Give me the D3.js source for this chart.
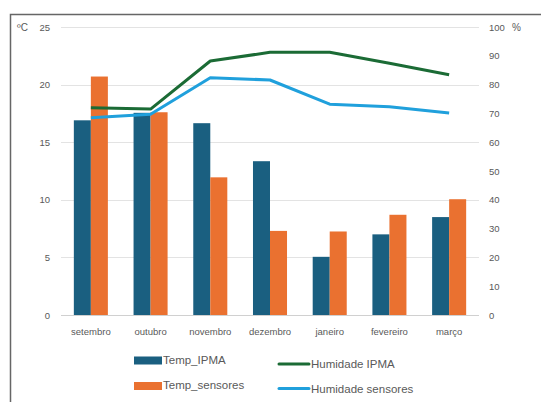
<!DOCTYPE html>
<html><head><meta charset="utf-8">
<script src="https://cdn.jsdelivr.net/npm/d3@7/dist/d3.min.js"></script>
<style>body{margin:0;background:#fff;}svg{display:block;font-family:"Liberation Sans",Arial,sans-serif;}</style>
</head><body>
<svg id="c" width="541" height="402"></svg>
<script>
const categories = ["setembro","outubro","novembro","dezembro","janeiro","fevereiro","março"];
const tempIPMA = [16.9, 17.55, 16.65, 13.35, 5.05, 7.0, 8.5];
const tempSensores = [20.7, 17.6, 11.95, 7.3, 7.25, 8.7, 10.05];
const humIPMA = [72.0, 71.5, 88.2, 91.2, 91.2, 87.4, 83.4];
const humSensores = [68.5, 69.7, 82.4, 81.6, 73.2, 72.3, 70.1];
const leftTicks = [0,5,10,15,20,25];
const rightTicks = [0,10,20,30,40,50,60,70,80,90,100];

const svg = d3.select("#c");
const L = 61, R = 479, T = 27, B = 315;
const x = d3.scaleBand().domain(categories).range([L, R]).paddingInner(0.43).paddingOuter(0.215);
const xc = d => x(d) + x.bandwidth()/2;
const yL = d3.scaleLinear().domain([0,25]).range([B, T]);
const yR = d3.scaleLinear().domain([0,100]).range([B, T]);

// frame
svg.append("path").attr("d", `M10.5,402 L10.5,14.5 L541,14.5`).attr("fill","none").attr("stroke","#666").attr("stroke-width",1.5);

// gridlines
svg.append("g").selectAll("line").data(leftTicks).join("line")
  .attr("x1", L).attr("x2", R).attr("y1", d=>Math.round(yL(d))+0.5).attr("y2", d=>Math.round(yL(d))+0.5)
  .attr("stroke", d=> d===0 ? "#d0d0d0" : "#e3e3e3").attr("stroke-width",1);

// left axis
const gl = svg.append("g").attr("transform", `translate(${L-11},0)`)
  .call(d3.axisLeft(yL).tickValues(leftTicks).tickSize(0).tickPadding(0));
gl.select(".domain").remove();
gl.selectAll("text").attr("fill","#595959").style("font-size","9.5px").style("font-family","'Liberation Sans',Arial,sans-serif");

// right axis
const gr = svg.append("g").attr("transform", `translate(${R+10},0)`)
  .call(d3.axisRight(yR).tickValues(rightTicks).tickSize(0).tickPadding(0));
gr.select(".domain").remove();
gr.selectAll("text").attr("fill","#595959").style("font-size","9.5px").style("font-family","'Liberation Sans',Arial,sans-serif");

// x axis
const gx = svg.append("g").attr("transform", `translate(0,${B+13})`)
  .call(d3.axisBottom(x).tickSize(0).tickPadding(0));
gx.select(".domain").remove();
gx.selectAll("text").attr("fill","#595959").style("font-size","9.5px").style("font-family","'Liberation Sans',Arial,sans-serif");

// unit labels
svg.append("text").attr("x",17).attr("y",31).attr("fill","#595959").style("font-size","10px").text("ºC");
svg.append("text").attr("x",512).attr("y",31).attr("fill","#595959").style("font-size","10px").text("%");

// bars
const bw = x.bandwidth()/2;
const cBlue = "#1a5f80", cOrange = "#ea7130", cGreen = "#1b6b35", cLight = "#20a0dc";
svg.append("g").selectAll("rect").data(categories).join("rect")
  .attr("x", d=>x(d)).attr("width", bw)
  .attr("y", (d,i)=>yL(tempIPMA[i])).attr("height",(d,i)=>B-yL(tempIPMA[i]))
  .attr("fill", cBlue);
svg.append("g").selectAll("rect").data(categories).join("rect")
  .attr("x", d=>x(d)+bw).attr("width", bw)
  .attr("y", (d,i)=>yL(tempSensores[i])).attr("height",(d,i)=>B-yL(tempSensores[i]))
  .attr("fill", cOrange);

// lines
const line = d3.line().x(d=>xc(d[0])).y(d=>yR(d[1]));
svg.append("path").datum(categories.map((c,i)=>[c,humIPMA[i]])).attr("d", line)
  .attr("fill","none").attr("stroke",cGreen).attr("stroke-width",3).attr("stroke-linejoin","round");
svg.append("path").datum(categories.map((c,i)=>[c,humSensores[i]])).attr("d", line)
  .attr("fill","none").attr("stroke",cLight).attr("stroke-width",3).attr("stroke-linejoin","round");

// legend
const lg = svg.append("g").style("font-size","11.5px").attr("fill","#595959");
lg.append("rect").attr("x",134).attr("y",356.5).attr("width",28).attr("height",8).attr("fill",cBlue);
lg.append("text").attr("x",163).attr("y",364).text("Temp_IPMA");
lg.append("rect").attr("x",134).attr("y",382).attr("width",28).attr("height",8).attr("fill",cOrange);
lg.append("text").attr("x",163).attr("y",389).text("Temp_sensores");
lg.append("line").attr("x1",279).attr("x2",309).attr("y1",364).attr("y2",364).attr("stroke",cGreen).attr("stroke-width",3).attr("stroke-linecap","round");
lg.append("text").attr("x",311).attr("y",368).text("Humidade IPMA");
lg.append("line").attr("x1",279).attr("x2",309).attr("y1",388.5).attr("y2",388.5).attr("stroke",cLight).attr("stroke-width",3).attr("stroke-linecap","round");
lg.append("text").attr("x",311).attr("y",393).text("Humidade sensores");
</script>
</body></html>
